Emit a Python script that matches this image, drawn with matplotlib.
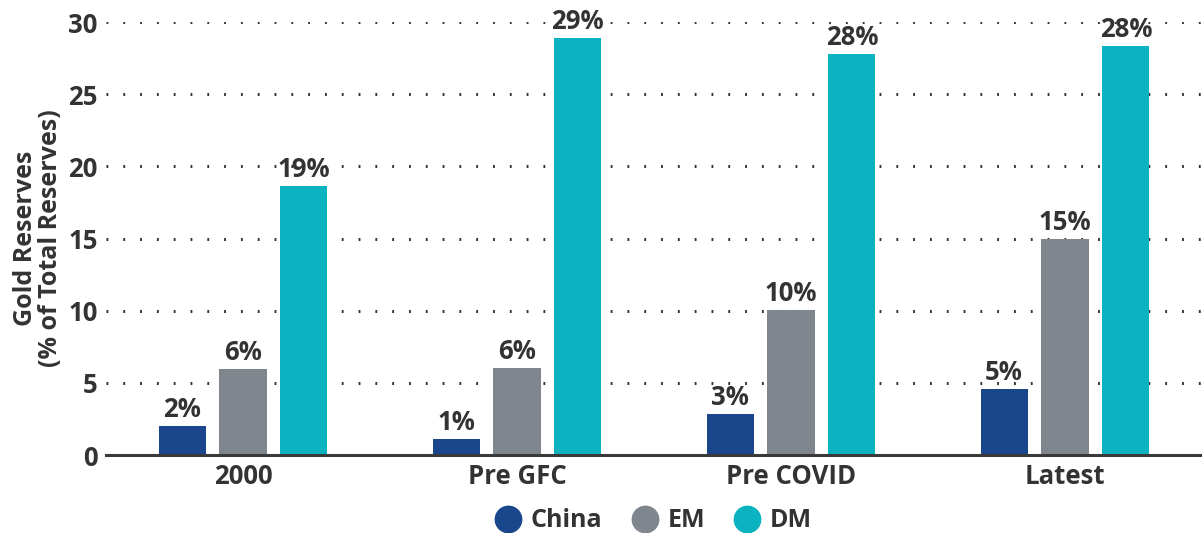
import matplotlib.pyplot as plt
import numpy as np
from matplotlib.lines import Line2D

plt.rcParams["font.family"] = ["Open Sans", "DejaVu Sans"]
plt.rcParams["font.weight"] = "bold"

categories = ["2000", "Pre GFC", "Pre COVID", "Latest"]
series_names = ["China", "EM", "DM"]
china = [2.0, 1.1, 2.85, 4.6]
em = [5.95, 6.05, 10.05, 15.0]
dm = [18.65, 28.9, 27.8, 28.35]
colors = ["#1a468c", "#7f868d", "#0bb2bf"]
text_color = "#333333"

fig = plt.figure(figsize=(12.02, 5.33), dpi=100)
ax = fig.add_axes([0.0882, 0.1463, 0.9118, 0.8124])

x = np.arange(len(categories))
width = 0.172
offsets = [-0.222, 0.0, 0.222]

for vals, off, col in zip([china, em, dm], offsets, colors):
    bars = ax.bar(x + off, vals, width, color=col, zorder=3)
    ax.bar_label(bars, labels=[f"{round(v):d}%" for v in vals], padding=2,
                 fontsize=18.5, fontweight="bold", color=text_color)

ax.set_xlim(-0.5, 3.5)
ax.set_ylim(0, 30)
ax.set_yticks([0, 5, 10, 15, 20, 25, 30])
ax.set_xticks(x)
ax.set_xticklabels(categories)
ax.tick_params(axis="both", length=0, labelsize=18.5, colors=text_color)
ax.tick_params(axis="y", pad=6)
ax.tick_params(axis="x", pad=6)
for lab in ax.get_xticklabels() + ax.get_yticklabels():
    lab.set_fontweight("bold")

ax.grid(axis="y", linestyle=(0, (0.6, 4.9)), linewidth=2.2, color="#333333", zorder=0)
ax.set_axisbelow(True)
for side in ["top", "right", "left"]:
    ax.spines[side].set_visible(False)
ax.spines["bottom"].set_color("#3a3a3a")
ax.spines["bottom"].set_linewidth(2.2)
ax.spines["bottom"].set_zorder(4)

ax.set_ylabel("Gold Reserves\n(% of Total Reserves)", fontsize=18, fontweight="bold",
              color=text_color, labelpad=4, linespacing=1.0)

handles = [Line2D([0], [0], marker="o", linestyle="none", markersize=19,
                  markerfacecolor=c, markeredgecolor=c) for c in colors]
leg = fig.legend(handles, series_names, loc="lower center", ncol=3, frameon=False,
                 bbox_to_anchor=(0.544, -0.043), fontsize=18, handlelength=1.0,
                 handletextpad=0.4, columnspacing=1.2, labelcolor=text_color)
for t in leg.get_texts():
    t.set_fontweight("bold")

fig.savefig("out.png", dpi=100)
